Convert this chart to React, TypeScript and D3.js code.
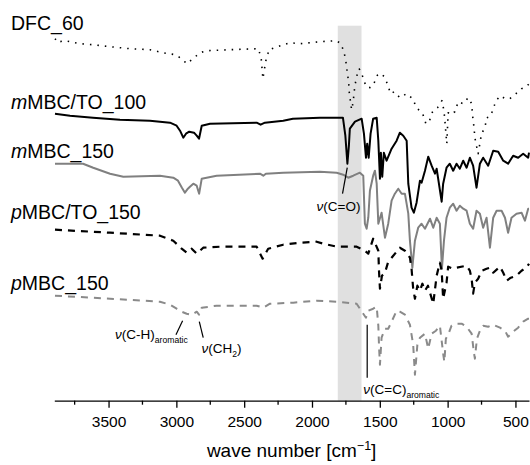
import React, { useEffect, useRef } from "react";
import * as d3 from "d3";

type Pt = [number, number];

// wavenumber [cm-1], transmittance (offset, a.u.)
const dfc60: Pt[] = [
  [3895, 362], [3870, 358], [3858, 359], [3821, 360], [3784, 359], [3711, 357], [3615, 356], [3489, 354],
  [3342, 352], [3195, 351], [3099, 348], [3010, 346], [2960, 342], [2924, 337], [2878, 342], [2826, 348],
  [2777, 350], [2605, 351], [2396, 352], [2375, 343], [2362, 322], [2350, 332], [2335, 344], [2310, 352],
  [2297, 352], [2162, 358], [2089, 357], [1942, 359], [1818, 360], [1788, 357], [1764, 349], [1749, 338],
  [1740, 328], [1730, 319], [1725, 308], [1715, 298], [1708, 291], [1696, 299], [1689, 309], [1681, 317],
  [1667, 326], [1652, 332], [1639, 328], [1622, 323], [1602, 314], [1568, 313], [1541, 318], [1516, 326],
  [1487, 327], [1462, 323], [1445, 317], [1420, 307], [1394, 309], [1352, 303], [1302, 307], [1258, 302],
  [1229, 293], [1184, 287], [1160, 277], [1136, 279], [1111, 289], [1074, 293], [1042, 300], [1027, 290],
  [1020, 280], [1013, 268], [1006, 257], [996, 288], [978, 286], [946, 289], [922, 299], [885, 297],
  [848, 303], [823, 297], [816, 285], [806, 274], [799, 263], [786, 254], [775, 247], [750, 267],
  [725, 273], [712, 283], [688, 284], [668, 290], [644, 300], [609, 305], [577, 302], [541, 302],
  [496, 307], [455, 312], [418, 314], [400, 317],
];

const mMBCTO100: Pt[] = [
  [3895, 287], [3784, 285], [3615, 283], [3416, 281], [3195, 280], [3047, 278], [2998, 275], [2973, 270],
  [2949, 263], [2929, 267], [2905, 269], [2870, 268], [2850, 265], [2833, 262], [2813, 275], [2752, 277],
  [2408, 278], [2379, 276], [2347, 278], [2212, 280], [2141, 282], [1942, 283], [1772, 283], [1754, 265],
  [1739, 237], [1728, 255], [1721, 272], [1683, 279], [1634, 282], [1617, 267], [1602, 243], [1593, 257],
  [1582, 243], [1568, 267], [1549, 282], [1523, 283], [1511, 260], [1499, 222], [1492, 248], [1482, 224],
  [1470, 248], [1450, 240], [1413, 252], [1376, 260], [1352, 268], [1327, 265], [1302, 260], [1290, 217],
  [1266, 193], [1249, 188], [1229, 198], [1204, 220], [1192, 218], [1167, 230], [1143, 244], [1118, 235],
  [1093, 227], [1081, 232], [1044, 199], [1033, 217], [1008, 233], [984, 237], [959, 230], [934, 237],
  [910, 232], [885, 240], [860, 233], [836, 243], [812, 235], [787, 213], [762, 237], [738, 243],
  [701, 235], [664, 250], [627, 249], [590, 240], [554, 237], [517, 245], [480, 243], [443, 247],
  [406, 243], [400, 248],
];

const mMBC150: Pt[] = [
  [3895, 237], [3688, 237], [3613, 233], [3489, 227], [3391, 224], [3121, 225], [3023, 223], [2988, 220],
  [2959, 213], [2937, 208], [2915, 212], [2900, 214], [2875, 217], [2850, 215], [2832, 207], [2813, 222],
  [2777, 223], [2703, 225], [2384, 227], [2359, 225], [2340, 227], [2212, 228], [1942, 229], [1818, 228],
  [1770, 226], [1733, 223], [1696, 225], [1647, 228], [1622, 225], [1610, 177], [1597, 172], [1585, 183],
  [1573, 210], [1549, 225], [1536, 230], [1523, 217], [1511, 177], [1487, 188], [1462, 163], [1438, 177],
  [1413, 200], [1389, 207], [1364, 212], [1339, 207], [1315, 207], [1290, 187], [1278, 160], [1260, 133],
  [1241, 160], [1217, 173], [1192, 177], [1167, 172], [1130, 182], [1106, 173], [1081, 183], [1057, 177],
  [1042, 132], [1027, 160], [1008, 183], [984, 193], [959, 197], [934, 190], [910, 195], [885, 192],
  [860, 190], [836, 177], [812, 172], [787, 190], [762, 187], [738, 173], [713, 183], [688, 153],
  [664, 183], [639, 190], [602, 190], [577, 183], [554, 168], [529, 183], [492, 187], [455, 188],
  [430, 180], [406, 192], [400, 192],
];

const pMBCTO150: Pt[] = [
  [3895, 171], [3489, 168], [3121, 165], [3023, 160], [2961, 152], [2924, 148], [2887, 152], [2850, 147],
  [2802, 153], [2679, 154], [2408, 154], [2364, 142], [2323, 152], [2212, 156], [2089, 158], [1966, 159],
  [1917, 157], [1818, 154], [1671, 154], [1610, 150], [1585, 147], [1549, 162], [1511, 150], [1506, 130],
  [1499, 112], [1484, 125], [1462, 128], [1440, 138], [1413, 143], [1352, 153], [1315, 150], [1278, 143],
  [1266, 132], [1254, 112], [1241, 102], [1223, 115], [1204, 110], [1186, 117], [1167, 110], [1145, 115],
  [1130, 108], [1106, 97], [1081, 125], [1057, 138], [1044, 130], [1033, 102], [1008, 118], [996, 134],
  [959, 132], [934, 133], [860, 135], [836, 130], [823, 122], [812, 107], [799, 118], [775, 122],
  [748, 130], [713, 132], [688, 133], [664, 128], [614, 134], [590, 128], [565, 120], [534, 123],
  [492, 125], [455, 130], [418, 133], [400, 137],
];

const pMBC150: Pt[] = [
  [3895, 105], [3489, 102], [3121, 99], [3047, 96], [2998, 92], [2961, 89], [2924, 87], [2887, 86],
  [2850, 89], [2833, 86], [2813, 93], [2703, 95], [2408, 95], [2359, 93], [2310, 97], [2138, 98],
  [1966, 100], [1818, 99], [1671, 97], [1622, 87], [1602, 83], [1585, 90], [1549, 92], [1523, 94],
  [1511, 75], [1505, 52], [1499, 36], [1487, 63], [1462, 72], [1438, 72], [1413, 79], [1376, 90],
  [1352, 89], [1315, 86], [1278, 76], [1254, 56], [1241, 26], [1223, 56], [1204, 63], [1167, 67],
  [1143, 52], [1118, 67], [1086, 70], [1057, 75], [1031, 45], [1024, 39], [1013, 62], [996, 66],
  [971, 75], [934, 77], [897, 77], [860, 74], [823, 67], [806, 48], [799, 42], [784, 62],
  [762, 70], [738, 75], [701, 74], [664, 76], [614, 73], [577, 70], [554, 64], [517, 69],
  [480, 73], [443, 79], [406, 82], [400, 82],
];

const seriesNames = [
  ["", "DFC_60"],
  ["m", "MBC/TO_100"],
  ["m", "MBC_150"],
  ["p", "MBC/TO_150"],
  ["p", "MBC_150"],
];

const majorTicks = [3500, 3000, 2500, 2000, 1500, 1000, 500];
const minorTicks = [3750, 3250, 2750, 2250, 1750, 1250, 750];
const carbonylBand = [1810, 1635];

// annotation text parts: [text, kind] kind: "i" italic, "n" normal, "s" subscript
const annotations = [
  { parts: [["ν", "i"], ["(C=O)", "n"]], at: [1966, 190], line: [[1740, 233], [1775, 207]] },
  { parts: [["ν", "i"], ["(C-H)", "n"], ["aromatic", "s"]], at: [3452, 62], line: [[2954, 80], [3003, 66]] },
  { parts: [["ν", "i"], ["(CH", "n"], ["2", "s"], [")", "n"]], at: [2814, 48], line: [[2831, 79], [2802, 63]] },
  { parts: [["ν", "i"], ["(C=C)", "n"], ["aromatic", "s"]], at: [1622, 7], line: [[1593, 76], [1593, 23]] },
];

const App = () => {
  const ref = useRef<SVGSVGElement>(null);

  useEffect(() => {
    const width = 530;
    const height = 465;
    const font = "'Liberation Sans', Arial, sans-serif";

    const x = d3.scaleLinear().domain([3900, 400]).range([54.3, 529]);
    const y = d3.scaleLinear().domain([0, 375]).range([400.7, 25.7]);

    const svg = d3.select(ref.current);
    svg.selectAll("*").remove();
    svg.attr("width", width).attr("height", height).style("font-family", font);

    svg.append("rect")
      .attr("x", x(carbonylBand[0]))
      .attr("y", y(375))
      .attr("width", x(carbonylBand[1]) - x(carbonylBand[0]))
      .attr("height", y(0) - y(375))
      .attr("fill", "#e0e0e0");

    const line = d3.line<Pt>().x(d => x(d[0])).y(d => y(d[1]));

    const styles = [
      { data: dfc60, color: "#000", w: 1.6, dash: "1.5,6" },
      { data: mMBCTO100, color: "#000", w: 2, dash: null },
      { data: mMBC150, color: "#808080", w: 2, dash: null },
      { data: pMBCTO150, color: "#000", w: 2.2, dash: "7,6" },
      { data: pMBC150, color: "#8a8a8a", w: 2, dash: "7,6" },
    ];

    styles.forEach(s => {
      svg.append("path")
        .attr("d", line(s.data))
        .attr("fill", "none")
        .attr("stroke", s.color)
        .attr("stroke-width", s.w)
        .attr("stroke-linejoin", "round")
        .attr("stroke-dasharray", s.dash);
    });

    // axis
    const axis = svg.append("g").attr("transform", `translate(0,${y(0)})`);
    axis.call(
      d3.axisBottom(x).tickValues(majorTicks).tickSize(7).tickSizeOuter(0).tickPadding(8.5)
        .tickFormat(d3.format("d"))
    );
    axis.selectAll(".domain").attr("stroke-width", 1.3);
    axis.selectAll(".tick line").attr("stroke-width", 1.3);
    axis.selectAll(".tick text").style("font-family", font).style("font-size", "15.5px").attr("fill", "#000");
    axis.selectAll(".minor")
      .data(minorTicks)
      .join("line")
      .attr("class", "minor")
      .attr("x1", d => x(d)).attr("x2", d => x(d))
      .attr("y1", 0).attr("y2", 4)
      .attr("stroke", "#000").attr("stroke-width", 1.3);

    const title = svg.append("text")
      .attr("x", (x.range()[0] + x.range()[1]) / 2)
      .attr("y", 457)
      .attr("text-anchor", "middle")
      .style("font-size", "19px");
    title.append("tspan").text("wave number [cm");
    title.append("tspan").attr("dy", -7).style("font-size", "12.5px").text("−1");
    title.append("tspan").attr("dy", 7).text("]");

    // series labels
    const labelBaselines = [30, 108.5, 157.5, 219, 290];
    seriesNames.forEach(([pre, rest], i) => {
      const t = svg.append("text")
        .attr("x", 11)
        .attr("y", labelBaselines[i])
        .style("font-size", "19.5px");
      if (pre) t.append("tspan").style("font-style", "italic").text(pre);
      t.append("tspan").text(rest);
    });

    // annotations
    annotations.forEach(a => {
      svg.append("line")
        .attr("x1", x(a.line[0][0])).attr("y1", y(a.line[0][1]))
        .attr("x2", x(a.line[1][0])).attr("y2", y(a.line[1][1]))
        .attr("stroke", "#000").attr("stroke-width", 1.2);
      const t = svg.append("text")
        .attr("x", x(a.at[0]))
        .attr("y", y(a.at[1]))
        .style("font-size", "13.5px");
      let shifted = false;
      a.parts.forEach(([txt, kind]) => {
        const sp = t.append("tspan").text(txt);
        if (kind === "i") sp.style("font-style", "italic");
        if (kind === "s") {
          sp.attr("dy", 4.5).style("font-size", "8.6px");
          shifted = true;
        } else if (shifted) {
          sp.attr("dy", -4.5);
          shifted = false;
        }
      });
    });
  }, []);

  return (
    <svg ref={ref} style={{ position: "absolute", left: 0, top: 0, display: "block" }} />
  );
};

export default App;
